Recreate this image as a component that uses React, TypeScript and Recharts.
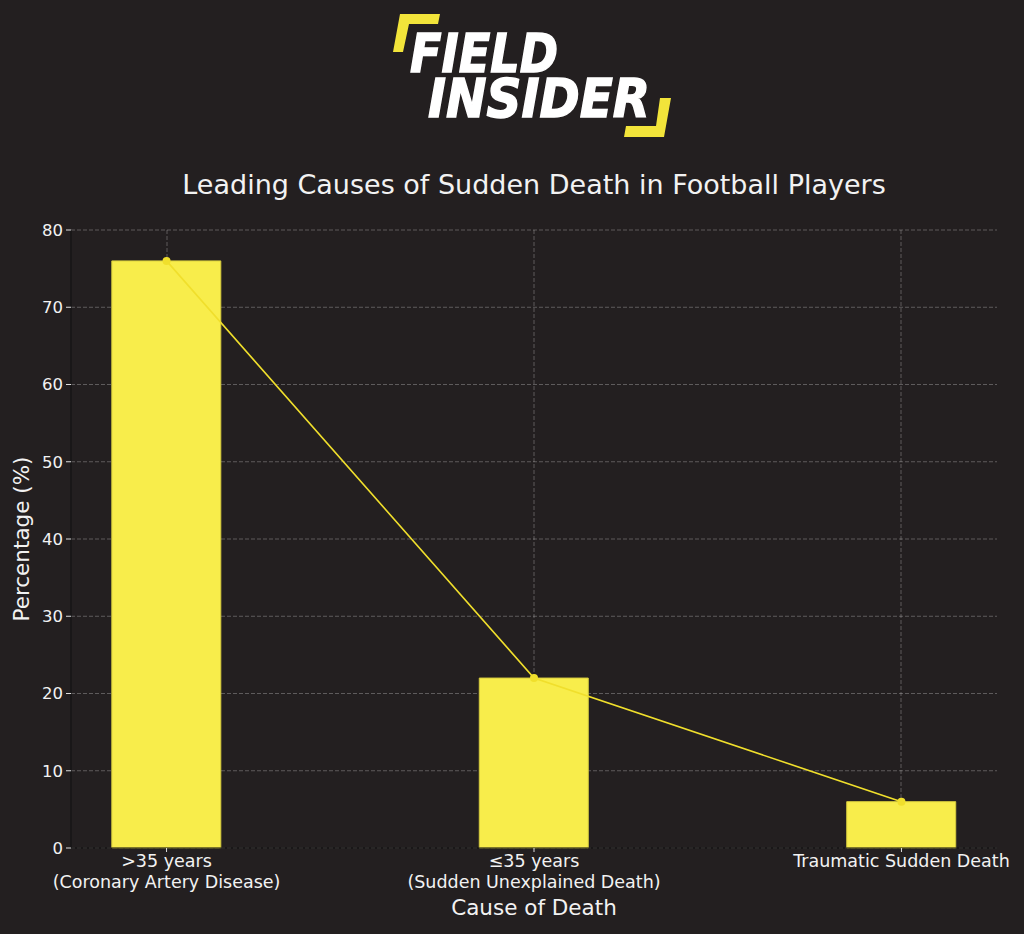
import { ComposedChart, Bar, Line, XAxis, YAxis, CartesianGrid } from "recharts";

const categories = [
  ">35 years\n(Coronary Artery Disease)",
  "≤35 years\n(Sudden Unexplained Death)",
  "Traumatic Sudden Death",
];
const percentages = [76, 22, 6];
const yTicks = [0, 10, 20, 30, 40, 50, 60, 70, 80];

const data = categories.map((name, i) => ({ pos: i, name, value: percentages[i] }));

const BG = "#231f20";
const TEXT = "#f2f2f2";
const FONT = "DejaVu Sans, sans-serif";

const CategoryTick = (props: any) => {
  const { x, y, payload } = props;
  const label = categories[payload.value] ?? "";
  const lines = label.split("\n");
  return (
    <text x={x} y={y} textAnchor="middle" fill={TEXT} fontSize={17.5} fontFamily={FONT}>
      {lines.map((l, i) => (
        <tspan key={i} x={x} dy={i === 0 ? 13 : 21}>
          {l}
        </tspan>
      ))}
    </text>
  );
};

function Logo() {
  return (
    <svg width={1024} height={150} style={{ position: "absolute", left: 0, top: 0 }}>
      <polygon points="400,14 440,14 438,24 409,24 403,52 393,52" fill="#f2e43a" />
      <polygon points="660,98 671,98 664,137 624,137 626,126 656,126" fill="#f2e43a" />
      <text
        fill="#fff"
        stroke="#fff"
        strokeWidth={1.5}
        fontFamily="DejaVu Sans, sans-serif"
        fontWeight="bold"
        fontStyle="italic"
        fontSize={54}
        lengthAdjust="spacingAndGlyphs"
      >
        <tspan x={410} y={72} textLength={148} lengthAdjust="spacingAndGlyphs">
          FIELD
        </tspan>
        <tspan x={428} y={117} textLength={222} lengthAdjust="spacingAndGlyphs">
          INSIDER
        </tspan>
      </text>
    </svg>
  );
}

export default function App() {
  return (
    <div style={{ position: "absolute", left: 0, top: 0, width: 1024, height: 934, background: BG, overflow: "hidden" }}>
      <Logo />
      <div
        style={{
          position: "absolute",
          left: 0,
          top: 169,
          width: 1068,
          textAlign: "center",
          color: TEXT,
          fontFamily: FONT,
          fontSize: 27,
        }}
      >
        Leading Causes of Sudden Death in Football Players
      </div>
      <div
        style={{
          position: "absolute",
          left: 0,
          top: 895,
          width: 1068,
          textAlign: "center",
          color: TEXT,
          fontFamily: FONT,
          fontSize: 21.5,
        }}
      >
        Cause of Death
      </div>
      <svg width={40} height={934} style={{ position: "absolute", left: 0, top: 0 }}>
        <text
          x={29}
          y={539}
          transform="rotate(-90 29 539)"
          textAnchor="middle"
          fill={TEXT}
          fontFamily={FONT}
          fontSize={21.5}
        >
          Percentage (%)
        </text>
      </svg>
      <div style={{ position: "absolute", left: 0, top: 0 }}>
        <ComposedChart
          width={1024}
          height={934}
          data={data}
          margin={{ top: 230, right: 27, left: 21, bottom: 26 }}
        >
          <XAxis
            type="number"
            dataKey="pos"
            domain={[-0.26, 2.26]}
            ticks={[0, 1, 2]}
            allowDataOverflow
            tick={<CategoryTick />}
            tickSize={4}
            stroke="#111"
            tickLine={{ stroke: "#ddd" }}
            height={60}
            interval={0}
          />
          <YAxis
            type="number"
            domain={[0, 80]}
            ticks={yTicks}
            width={50}
            tickSize={5}
            tickMargin={3}
            stroke="#111"
            tickLine={{ stroke: "#ddd" }}
            tick={{ fill: TEXT, fontSize: 16.5, fontFamily: FONT }}
          />
          <Line
            dataKey="value"
            stroke="#f0df2c"
            strokeWidth={1.6}
            dot={{ r: 4, fill: "#f0df2c", stroke: "none" }}
            isAnimationActive={false}
          />
          <Bar
            dataKey="value"
            barSize={109}
            fill="#f8ed4b"
            stroke="#d6cb3e"
            strokeWidth={1}
            isAnimationActive={false}
          />
          <CartesianGrid
            stroke="#ffffff"
            strokeOpacity={0.27}
            strokeDasharray="4 2"
            verticalPoints={[167, 534, 901]}
          />
        </ComposedChart>
      </div>
    </div>
  );
}
